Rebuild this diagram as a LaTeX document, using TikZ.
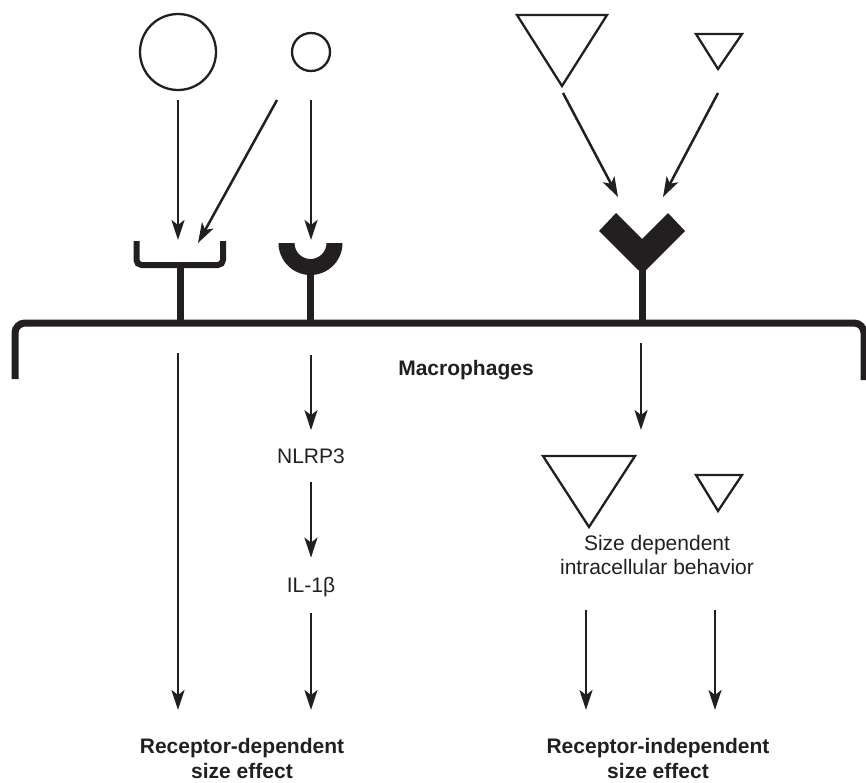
\documentclass[tikz,border=0pt]{standalone}
\usepackage{fontspec}
\setmainfont{Liberation Sans}
\usetikzlibrary{arrows.meta}
\definecolor{ink}{HTML}{231F20}

\begin{document}
\begin{tikzpicture} [
  x=1pt, y=-1pt,
  arr/.style={draw=ink, line width=2.5pt, -{Stealth[length=20pt,width=13pt,inset=5pt]}},
  part/.style={draw=ink, line width=2.3pt, line join=miter},
  rec/.style={draw=ink, line width=7pt},
  txt/.style={text=ink, inner sep=0, align=center, font=\fontsize{21}{24}\selectfont},
  bold/.style={txt, font=\fontsize{21}{25}\selectfont\bfseries}
  ]
  \useasboundingbox (0,0) rectangle (866,782);

  % particles
  \node (c1) [circle, part, minimum size=76pt, inner sep=0] at (178,52) {};
  \node (c2) [circle, part, minimum size=38pt, inner sep=0] at (311,52) {};
  \draw [part] (517,15) -- (607,15) -- (562,86) -- cycle;
  \draw [part] (696,34) -- (742,34) -- (718,69) -- cycle;

  % receptors and membrane
  \draw [rec, line width=6pt, rounded corners=5pt] (136.5,241) -- (136.5,265) -- (223,265) -- (223,241);
  \draw [rec] (180,265) -- (180,322);
  \fill [ink] (278.5,243) arc (180:0:32) -- (326.5,243) arc (0:180:16) -- cycle;
  \draw [rec] (310.5,272) -- (310.5,322);
  \fill [ink] (599,231) -- (616,213) -- (642,239) -- (668,213) -- (685,231) -- (646,270) -- (638,270) -- cycle;
  \draw [rec] (642,266) -- (642,322);
  \draw [rec, rounded corners=10pt] (15,379) -- (15,323) -- (864,323) -- (864,380);

  % inside the cell
  \draw [part] (543,456) -- (635,456) -- (589,527) -- cycle;
  \draw [part] (696,475) -- (742,475) -- (718,511) -- cycle;

  \node (mac) [bold, anchor=base] at (466,375) {Macrophages};
  \node (nlrp) [txt, anchor=base] at (311,463) {NLRP3};
  \node (il) [txt, anchor=base] at (311,592) {IL-1β};
  \node (sdep) [txt] at (657,555) {Size dependent\\intracellular behavior};
  \node (rdep) [bold] at (242,758) {Receptor-dependent\\size effect};
  \node (rind) [bold] at (658,758) {Receptor-independent\\size effect};

  % arrow ends
  \coordinate (c1o) at (178,100);
  \coordinate (c2o1) at (277,100);
  \coordinate (c2o2) at (311,100);
  \coordinate (t1o) at (563,93);
  \coordinate (t2o) at (718,93);
  \coordinate (cup1) at (178,240);
  \coordinate (cup2) at (198,243);
  \coordinate (semi) at (311,240);
  \coordinate (yl) at (618,197);
  \coordinate (yr) at (663,197);
  \coordinate (m1) at (178,353);
  \coordinate (m2) at (311,355);
  \coordinate (m3) at (641,343);
  \coordinate (tri) at (641,430);
  \coordinate (s1) at (586,610);
  \coordinate (s2) at (715,610);
  \coordinate (e1) at (178,710);
  \coordinate (e2) at (311,710);
  \coordinate (e3) at (586,710);
  \coordinate (e4) at (715,710);

  \draw [arr] (c1o) -- (cup1);
  \draw [arr] (c2o1) -- (cup2);
  \draw [arr] (c2o2) -- (semi);
  \draw [arr] (t1o) -- (yl);
  \draw [arr] (t2o) -- (yr);
  \draw [arr] (m1) -- (e1);
  \draw [arr, shorten >=18pt] (m2) -- (nlrp.north);
  \draw [arr, shorten <=19pt, shorten >=19pt] (nlrp.south) -- (il.north);
  \draw [arr, shorten <=16pt] (il.south) -- (e2);
  \draw [arr] (m3) -- (tri);
  \draw [arr] (s1) -- (e3);
  \draw [arr] (s2) -- (e4);
\end{tikzpicture}
\end{document}
